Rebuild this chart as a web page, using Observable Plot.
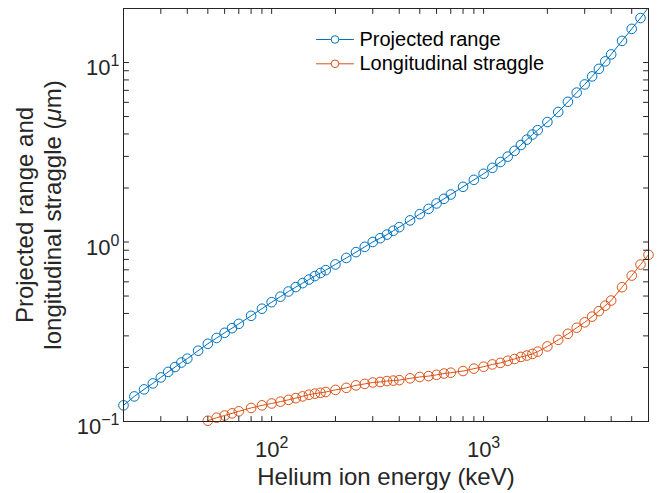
<!DOCTYPE html>
<html>
<head>
<meta charset="utf-8">
<script src="https://cdn.jsdelivr.net/npm/d3@7"></script>
<script src="https://cdn.jsdelivr.net/npm/@observablehq/plot@0.6"></script>
<style>
  html, body { margin: 0; padding: 0; background: #fff; }
  #chart svg { display: block; }
</style>
</head>
<body>
<div id="chart"></div>
<script>
// Ion energies (keV) of the range table
const energyKeV = [
  20, 22.5, 25, 27.5, 30, 32.5, 35, 37.5, 40, 45, 50, 55, 60, 65, 70, 80, 90,
  100, 110, 120, 130, 140, 150, 160, 170, 180, 200, 225, 250, 275, 300, 325, 350, 375,
  400, 450, 500, 550, 600, 650, 700, 800, 900,
  1000, 1100, 1200, 1300, 1400, 1500, 1600, 1700, 1800, 2000, 2250, 2500, 2750,
  3000, 3250, 3500, 3750, 4000, 4500, 5000, 5500, 6000
];

// Projected range (µm), one value per energy
const projectedRange = [
  0.123, 0.138, 0.151, 0.163, 0.176, 0.189, 0.201, 0.213, 0.224, 0.248, 0.271, 0.292,
  0.312, 0.331, 0.350, 0.388, 0.425,
  0.462, 0.496, 0.530, 0.561, 0.590, 0.618, 0.646, 0.672, 0.697, 0.750, 0.815, 0.878,
  0.940, 1.00, 1.05, 1.10, 1.155,
  1.21, 1.32, 1.43, 1.53, 1.64, 1.74, 1.84, 2.03, 2.22,
  2.40, 2.59, 2.79, 2.99, 3.22, 3.47, 3.72, 3.97, 4.20, 4.66, 5.30, 6.04, 6.80,
  7.55, 8.37, 9.22, 10.15, 11.1, 13.2, 15.4, 17.7, 20.3
];

// Longitudinal straggle (µm), energies from 50 keV upward
const longitudinalStraggle = [
  0.101, 0.105, 0.108, 0.111, 0.114, 0.119, 0.123,
  0.126, 0.129, 0.132, 0.135, 0.138, 0.141, 0.143, 0.1445, 0.146, 0.150, 0.154, 0.159,
  0.162, 0.165, 0.166, 0.168, 0.169,
  0.170, 0.174, 0.177, 0.179, 0.182, 0.185, 0.187, 0.191, 0.197,
  0.202, 0.208, 0.212, 0.218, 0.223, 0.229, 0.233, 0.238, 0.245, 0.262, 0.285, 0.308, 0.333,
  0.357, 0.384, 0.412, 0.442, 0.472, 0.560, 0.650, 0.749, 0.849
];

const seriesNames = ["Projected range", "Longitudinal straggle"];
const seriesColors = ["#0072BD", "#D95319"];

const xDomain = [20, 6000];
const yDomain = [0.1, 20];
const xMajorTicks = [100, 1000];
const yMajorTicks = [0.1, 1, 10];
const xLabel = "Helium ion energy (keV)";
const yLabelLines = ["Projected range and", "longitudinal straggle (μm)"];

const axisColor = "#262626";
const fontFamily = "'Liberation Sans', Arial, Helvetica, sans-serif";

// Long-format rows for the two series
const straggleEnergy = energyKeV.slice(energyKeV.length - longitudinalStraggle.length);
const rows = [
  ...energyKeV.map((e, i) => ({series: seriesNames[0], energy: e, value: projectedRange[i]})),
  ...straggleEnergy.map((e, i) => ({series: seriesNames[1], energy: e, value: longitudinalStraggle[i]}))
];
// markers are only drawn for points inside the axes limits
const inside = (d) => d.value >= yDomain[0] && d.value <= yDomain[1] &&
  d.energy >= xDomain[0] && d.energy <= xDomain[1];

// every 1..9 multiple of each decade within a domain (log-scale tick marks)
function logTicks([lo, hi]) {
  const out = [];
  for (let p = Math.floor(Math.log10(lo)); p <= Math.ceil(Math.log10(hi)); p++) {
    for (let m = 1; m < 10; m++) {
      const v = +(m * Math.pow(10, p)).toPrecision(6);
      if (v >= lo && v <= hi) out.push(v);
    }
  }
  return out;
}
const xTickMarks = logTicks(xDomain);
const yTickMarks = logTicks(yDomain);
const powerLabel = (d) => "10^" + Math.round(Math.log10(d));

// straight segment shape for vector marks (ticks and legend lines)
const segment = {draw(context, l) { context.moveTo(0, 0); context.lineTo(0, -l); }};
const tickLength = 5;

// inward-pointing tick marks along one side of the frame
function sideTicks(values, side) {
  const opts = {
    bottom: {x: (d) => d, frameAnchor: "bottom", rotate: 0},
    top: {x: (d) => d, frameAnchor: "top", rotate: 180},
    left: {y: (d) => d, frameAnchor: "left", rotate: 90},
    right: {y: (d) => d, frameAnchor: "right", rotate: -90}
  }[side];
  return Plot.vector(values, {...opts, length: tickLength, anchor: "start", shape: segment,
    stroke: axisColor, strokeWidth: 1});
}

// legend: a short line with a circle, then the series name
const legendMarks = seriesNames.flatMap((name, i) => {
  const dy = 31 + i * 24.3;
  return [
    Plot.vector([name], {frameAnchor: "top-left", dx: 193, dy, length: 37, rotate: 90,
      anchor: "start", shape: segment, stroke: seriesColors[i], strokeWidth: 1}),
    Plot.dot([name], {frameAnchor: "top-left", dx: 211.5, dy, r: 3.8,
      stroke: seriesColors[i], fill: "white", strokeWidth: 1}),
    Plot.text([name], {frameAnchor: "top-left", dx: 236, dy, text: (d) => d,
      textAnchor: "start", lineAnchor: "middle", fontSize: 20, fill: "#000"})
  ];
});

const chart = Plot.plot({
  width: 663,
  height: 493,
  marginLeft: 123,
  marginRight: 15,
  marginTop: 8,
  marginBottom: 72,
  style: {fontFamily, color: axisColor, background: "white", overflow: "visible"},
  x: {type: "log", domain: xDomain},
  y: {type: "log", domain: yDomain},
  color: {domain: seriesNames, range: seriesColors},
  marks: [
    Plot.line(rows, {x: "energy", y: "value", z: "series", stroke: "series",
      strokeWidth: 1, clip: true}),
    Plot.dot(rows.filter(inside), {x: "energy", y: "value", stroke: "series",
      fill: "none", r: 4.8, strokeWidth: 1}),
    Plot.frame({stroke: axisColor, strokeWidth: 1}),
    sideTicks(xTickMarks, "bottom"),
    sideTicks(xTickMarks, "top"),
    sideTicks(yTickMarks, "left"),
    sideTicks(yTickMarks, "right"),
    // decade labels
    Plot.axisX(xMajorTicks, {anchor: "bottom", tickSize: 0, tickPadding: 20, tickFormat: powerLabel,
      fontSize: 22, label: null, fill: axisColor}),
    Plot.axisY(yMajorTicks, {anchor: "left", tickSize: 0, tickPadding: 4, tickFormat: powerLabel,
      fontSize: 22, label: null, fill: axisColor, dy: 5.5}),
    // axis titles
    Plot.text([xLabel], {frameAnchor: "bottom", dy: 63, text: (d) => d, lineAnchor: "bottom",
      textAnchor: "middle", fontSize: 24, fill: axisColor}),
    Plot.text([yLabelLines[0]], {frameAnchor: "left", dx: -91, rotate: -90, text: (d) => d,
      textAnchor: "middle", lineAnchor: "bottom", fontSize: 24, fill: axisColor}),
    Plot.text([yLabelLines[1]], {frameAnchor: "left", dx: -62.5, rotate: -90, text: (d) => d,
      textAnchor: "middle", lineAnchor: "bottom", fontSize: 24, fill: axisColor}),
    ...legendMarks
  ]
});

// typeset "10^n" labels with a raised exponent and the µ symbol in italics
const NS = "http://www.w3.org/2000/svg";
chart.querySelectorAll("text").forEach((t) => {
  const s = t.textContent;
  const m = s.match(/^10\^(-?\d+)$/);
  if (m) {
    t.textContent = "";
    const base = document.createElementNS(NS, "tspan");
    base.textContent = "10";
    const sup = document.createElementNS(NS, "tspan");
    sup.textContent = m[1].replace("-", "\u2212");
    sup.setAttribute("font-size", "16");
    sup.setAttribute("dy", "-9");
    t.append(base, sup);
  } else if (s.includes("μ")) {
    const [before, after] = s.split("μ");
    t.textContent = "";
    const a = document.createElementNS(NS, "tspan");
    a.textContent = before;
    const mu = document.createElementNS(NS, "tspan");
    mu.textContent = "μ";
    mu.setAttribute("font-style", "italic");
    const b = document.createElementNS(NS, "tspan");
    b.textContent = after;
    t.append(a, mu, b);
  }
});

document.getElementById("chart").appendChild(chart);
</script>
</body>
</html>
